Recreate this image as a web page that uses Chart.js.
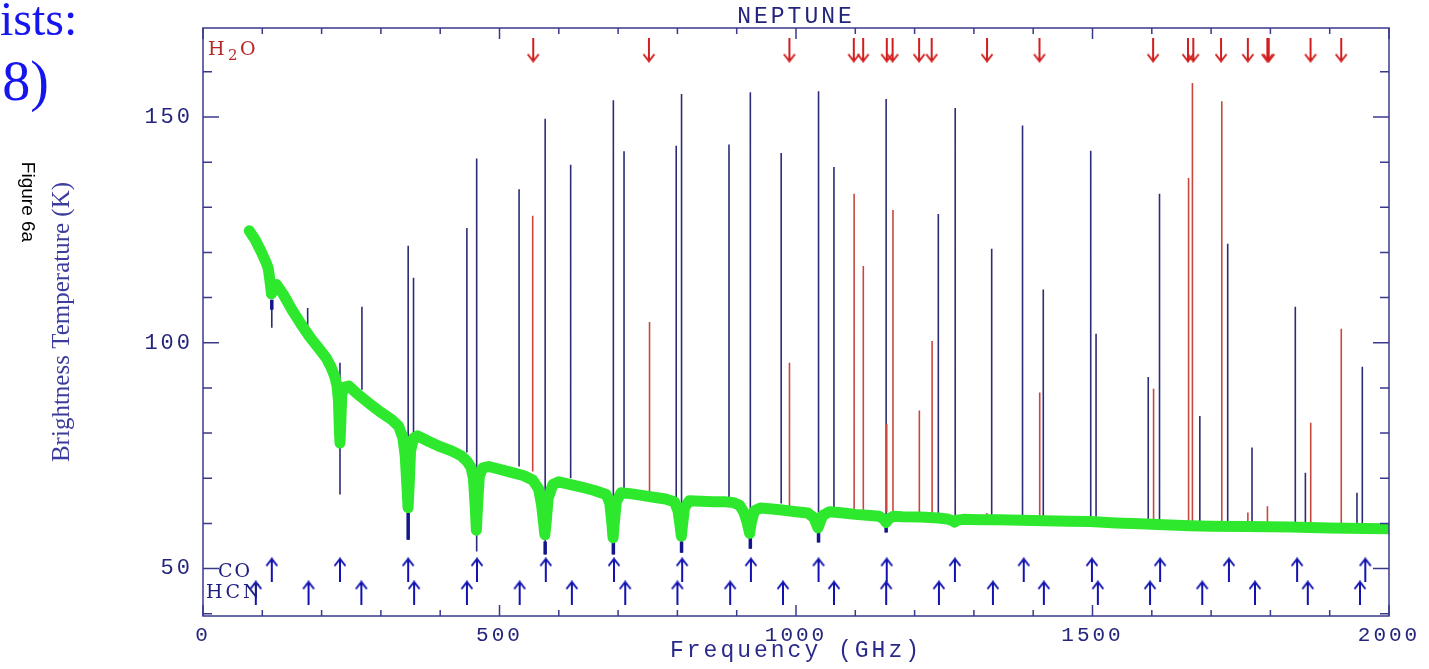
<!DOCTYPE html>
<html>
<head>
<meta charset="utf-8">
<title>Neptune</title>
<script src="https://cdn.jsdelivr.net/npm/chart.js@4.4.0/dist/chart.umd.min.js"></script>
<style>
  html, body { margin: 0; padding: 0; background: #fff; overflow: hidden; }
  canvas { display: block; }
</style>
</head>
<body>
<canvas id="chart" width="1429" height="669" style="width:1429px;height:669px"></canvas>
<script>
// model spectrum (green)
const modelFreq = [78, 88, 98, 106, 110, 113, 115.5, 118, 124, 135, 150, 165, 180, 195, 208, 216, 222, 226, 228.5, 230, 231, 232, 234, 238, 246, 260, 280, 300, 318, 330, 337, 341, 344, 345.8, 347.5, 350, 355, 362, 380, 400, 420, 435, 445, 452, 456, 459, 461, 463, 466, 472, 482, 500, 520, 540, 556, 566, 571, 574.5, 576.5, 578.5, 582, 590, 600, 620, 640, 660, 680, 686, 689.5, 691.5, 693.5, 697, 705, 720, 740, 760, 780, 795, 801, 804.5, 806.6, 808.5, 812, 820, 840, 860, 880, 895, 905, 912, 917, 921.8, 925, 930, 940, 960, 980, 1000, 1020, 1030, 1034.5, 1037, 1040, 1045, 1057, 1080, 1100, 1120, 1140, 1148, 1152, 1156, 1164, 1180, 1210, 1240, 1255, 1264, 1267.5, 1271, 1282, 1310, 1344, 1380, 1420, 1460, 1496, 1540, 1580, 1620, 1664, 1700, 1760, 1833, 1900, 1960, 2000];
const modelTemp = [124.8, 122.8, 120.2, 117.9, 116.5, 113.6, 110.8, 111.6, 112.9, 110.8, 107.3, 104.2, 101.3, 98.8, 96.6, 94.6, 92.6, 90.5, 87, 80.5, 77.8, 81, 88.5, 90.2, 90.4, 88.7, 86.6, 84.6, 83, 81.5, 79, 75, 68, 63.5, 68, 76, 78.9, 79.4, 78.2, 77, 76, 75, 73.8, 72.4, 70, 64, 58.5, 64, 70.5, 72.3, 72.6, 72, 71.3, 70.6, 69.6, 67.6, 64, 60, 57.5, 60, 65.5, 68.6, 69.2, 68.6, 68, 67.3, 66.4, 64.5, 60, 56.8, 60, 64.8, 66.8, 66.6, 66.2, 65.8, 65.4, 64.8, 62.8, 59.5, 57.2, 59.5, 63.5, 65, 64.9, 64.8, 64.8, 64.6, 64, 62.5, 60.5, 57.8, 60.5, 62.8, 63.4, 63.2, 62.9, 62.6, 62.3, 61.3, 59.8, 59, 60, 61.8, 62.6, 62.3, 62, 61.8, 61.6, 61, 60.2, 61, 61.6, 61.5, 61.4, 61.2, 61, 60.6, 60.3, 60.7, 60.9, 60.8, 60.8, 60.7, 60.6, 60.5, 60.4, 60.1, 59.9, 59.7, 59.5, 59.4, 59.3, 59.2, 59, 58.9, 58.8];

// CO / HCN lines (blue sticks)
const blueFreq = [116, 176.5, 231, 268, 346, 355, 445, 461.5, 533, 577, 620, 692, 710, 798, 807, 887, 923, 975, 1038, 1064, 1152, 1240, 1268.5, 1330, 1382, 1417, 1497, 1506, 1594, 1613, 1681, 1728, 1769, 1842, 1859, 1946, 1955];
const blueLow = [103.3, 103.5, 66.4, 89.6, 56.4, 79.6, 75.7, 53.8, 72.6, 53.1, 70, 53.1, 67.5, 65.3, 53.5, 65.3, 54.4, 64.4, 55.8, 63.5, 58, 62, 59.4, 61.6, 61.3, 61, 60.8, 61.5, 60.5, 60.4, 60.3, 60.2, 60, 60, 60, 59.8, 59.8];
const blueHigh = [109.5, 107.7, 95.6, 108, 121.5, 114.4, 125.4, 140.8, 134, 149.6, 139.4, 153.7, 142.4, 143.6, 155.1, 143.9, 155.5, 142, 155.7, 138.9, 154, 128.5, 152, 120.8, 148.1, 111.8, 142.5, 102, 92.4, 133, 83.8, 121.9, 76.8, 108, 71.2, 66.8, 94.7];

// heavier cores under the CO absorption dips
const coreFreq = [116, 346, 577, 692, 807, 923, 1038, 1152, 1268.5];
const coreLow = [107.3, 56.4, 53.1, 53.1, 53.5, 54.4, 55.8, 58, 59.2];
const coreHigh = [109.5, 62.4, 56, 55.7, 56, 56.8, 58.3, 59.5, 59.9];

// H2O lines (red sticks)
const redFreq = [556, 753, 989, 1098, 1113.5, 1153, 1163.5, 1208, 1229.5, 1322, 1411, 1603, 1662, 1668.5, 1718, 1762, 1795, 1868, 1919.5];
const redLow = [71.5, 66.9, 63.8, 62.9, 62.9, 62.4, 62.4, 62.2, 62, 61.4, 61.3, 60.5, 60.5, 60.5, 60.3, 60.2, 60, 60, 59.8];
const redHigh = [128.1, 104.6, 95.6, 133, 117, 82, 129.4, 85, 100.4, 62.3, 89, 89.8, 136.5, 157.5, 153.5, 62.4, 63.8, 82.3, 103.1];

// line markers (arrows)
const h2oArrows = [556.9, 752, 988.9, 1097.4, 1113.3, 1153.1, 1162.9, 1207.6, 1228.8, 1322.1, 1410.6, 1602.2, 1661, 1669.9, 1716.8, 1762, 1794.8, 1797.2, 1867.7, 1919.4];
const coArrows = [116, 231, 346, 462, 578, 693, 808, 924, 1038, 1153, 1268, 1384, 1499, 1614, 1730, 1845, 1960];
const hcnArrows = [89, 178, 267, 356, 445, 534, 622, 712, 800, 889, 978, 1064, 1152, 1241, 1332, 1418, 1509, 1597, 1685, 1774, 1863, 1951];

const xTickLabels = [0, 500, 1000, 1500, 2000];
const yTickLabels = [50, 100, 150];

const h2oRow = 164.8, coRow = 49.7, hcnRow = 44.6;
const navy = '#24247c';
const axisColor = '#3a3a8c';

function stems(freq, low, high) {
  const pts = [];
  freq.forEach((f, i) => {
    pts.push({x: f, y: low[i]}, {x: f, y: high[i]}, {x: f, y: null});
  });
  return pts;
}

function arrowImage(color, up) {
  const c = document.createElement('canvas');
  c.width = 14; c.height = 25;
  const g = c.getContext('2d');
  g.strokeStyle = color;
  g.lineWidth = 2;
  g.beginPath();
  if (up) {
    g.moveTo(7, 1.5); g.lineTo(7, 25);
    g.moveTo(1.5, 8.5); g.lineTo(7, 1.5); g.lineTo(12.5, 8.5);
  } else {
    g.moveTo(7, 0); g.lineTo(7, 23.5);
    g.moveTo(1.5, 16.5); g.lineTo(7, 23.5); g.lineTo(12.5, 16.5);
  }
  g.stroke();
  return c;
}

const upBlue = arrowImage('#1212b0', true);
const downRed = arrowImage('#d21e1e', false);

const isMult = (v, m) => Math.abs(v / m - Math.round(v / m)) < 1e-6;

// frame, inward ticks and the loose labels
const framePlugin = {
  id: 'frame',
  beforeDraw(chart) {
    chart.ctx.letterSpacing = '3px';
  },
  afterDraw(chart) {
    const {ctx, chartArea: a, scales: {x, y}} = chart;
    ctx.save();
    ctx.strokeStyle = axisColor;
    ctx.lineWidth = 1.5;
    ctx.strokeRect(a.left, a.top, a.right - a.left, a.bottom - a.top);
    ctx.beginPath();
    x.ticks.forEach(t => {
      if (!isMult(t.value, 100)) return;
      const px = x.getPixelForValue(t.value);
      const len = isMult(t.value, 500) ? 11 : 6;
      ctx.moveTo(px, a.bottom); ctx.lineTo(px, a.bottom - len);
      ctx.moveTo(px, a.top); ctx.lineTo(px, a.top + len);
    });
    y.ticks.forEach(t => {
      if (!isMult(t.value, 10)) return;
      const py = y.getPixelForValue(t.value);
      const len = isMult(t.value, 50) ? 16 : 9;
      ctx.moveTo(a.left, py); ctx.lineTo(a.left + len, py);
      ctx.moveTo(a.right, py); ctx.lineTo(a.right - len, py);
    });
    ctx.stroke();

    // molecule labels
    ctx.textAlign = 'left';
    ctx.textBaseline = 'alphabetic';
    ctx.fillStyle = '#b82828';
    ctx.letterSpacing = '1px';
    ctx.font = '19px "DejaVu Serif"';
    ctx.fillText('H', 208, 55);
    ctx.fillText('O', 240, 55);
    ctx.font = '15px "DejaVu Serif"';
    ctx.fillText('2', 228, 60);
    ctx.fillStyle = '#1e1e82';
    ctx.font = '19px "DejaVu Serif"';
    ctx.letterSpacing = '2px';
    ctx.fillText('CO', 218, 577);
    ctx.letterSpacing = '3px';
    ctx.fillText('HCN', 206, 598);

    // y axis title
    ctx.letterSpacing = '0px';
    ctx.save();
    ctx.translate(62, 322);
    ctx.rotate(-Math.PI / 2);
    ctx.textAlign = 'center';
    ctx.textBaseline = 'middle';
    ctx.fillStyle = '#3c3c9c';
    ctx.font = '25px "Liberation Serif"';
    ctx.fillText('Brightness Temperature (K)', 0, 0);
    ctx.restore();

    // page fragments
    ctx.save();
    ctx.translate(27, 202);
    ctx.rotate(Math.PI / 2);
    ctx.textAlign = 'center';
    ctx.textBaseline = 'middle';
    ctx.fillStyle = '#000';
    ctx.font = '19px "Liberation Sans"';
    ctx.fillText('Figure 6a', 0, 0);
    ctx.restore();

    ctx.fillStyle = '#1515ee';
    ctx.textAlign = 'left';
    ctx.font = '48px "Liberation Serif"';
    ctx.fillText('ists:', 0, 35);
    ctx.textAlign = 'right';
    ctx.font = '56px "Liberation Serif"';
    ctx.fillText('98)', 49, 100);
    ctx.restore();
  }
};

const monoFont = (size) => ({family: 'Liberation Mono', size: size});

new Chart(document.getElementById('chart'), {
  type: 'line',
  data: {
    datasets: [
      {
        label: 'Model',
        data: modelFreq.map((f, i) => ({x: f, y: modelTemp[i]})),
        borderColor: '#2ee82e',
        borderWidth: 11,
        borderJoinStyle: 'round',
        borderCapStyle: 'round',
        pointRadius: 0,
        tension: 0
      },
      {
        label: 'H2O markers',
        data: h2oArrows.map(f => ({x: f, y: h2oRow})),
        showLine: false,
        pointStyle: downRed,
        pointRadius: 1
      },
      {
        label: 'CO markers',
        data: coArrows.map(f => ({x: f, y: coRow})),
        showLine: false,
        pointStyle: upBlue,
        pointRadius: 1
      },
      {
        label: 'HCN markers',
        data: hcnArrows.map(f => ({x: f, y: hcnRow})),
        showLine: false,
        pointStyle: upBlue,
        pointRadius: 1
      },
      {
        label: 'Cores',
        data: stems(coreFreq, coreLow, coreHigh),
        borderColor: '#14148c',
        borderWidth: 3.5,
        pointRadius: 0,
        spanGaps: false
      },
      {
        label: 'H2O',
        data: stems(redFreq, redLow, redHigh),
        borderColor: '#c8483e',
        borderWidth: 1.6,
        pointRadius: 0,
        spanGaps: false
      },
      {
        label: 'CO/HCN',
        data: stems(blueFreq, blueLow, blueHigh),
        borderColor: '#2c2c78',
        borderWidth: 1.6,
        pointRadius: 0,
        spanGaps: false
      }
    ]
  },
  options: {
    responsive: false,
    devicePixelRatio: 1,
    animation: false,
    layout: {padding: {left: 0, right: 40, top: 0, bottom: 0}},
    plugins: {legend: {display: false}, tooltip: {enabled: false}},
    scales: {
      x: {
        type: 'linear',
        position: 'bottom',
        min: 0, max: 2000,
        grid: {display: false, drawTicks: false},
        border: {display: false},
        ticks: {
          stepSize: 100,
          autoSkip: false,
          maxRotation: 0, minRotation: 0,
          padding: 7,
          color: navy,
          font: monoFont(21),
          callback: v => xTickLabels.includes(v) ? String(v) : ''
        },
        title: {
          display: true,
          text: 'Frequency (GHz)',
          color: '#2a2a8a',
          font: monoFont(23),
          padding: {top: 0, bottom: 4}
        },
        afterFit(s) { s.height = 53; }
      },
      xTop: {
        type: 'linear',
        position: 'top',
        min: 0, max: 2000,
        grid: {display: false, drawTicks: false},
        border: {display: false},
        ticks: {display: false},
        title: {
          display: true,
          text: 'NEPTUNE',
          color: navy,
          font: monoFont(23),
          padding: {top: 3, bottom: 0}
        },
        afterFit(s) { s.height = 28; }
      },
      y: {
        type: 'linear',
        position: 'left',
        min: 39.5, max: 169.7,
        grid: {display: false, drawTicks: false},
        border: {display: false},
        ticks: {
          stepSize: 10,
          includeBounds: false,
          autoSkip: false,
          padding: 10,
          color: navy,
          font: monoFont(22),
          callback: v => yTickLabels.includes(v) ? String(v) : ''
        },
        afterFit(s) { s.width = 203; }
      }
    }
  },
  plugins: [framePlugin]
});
</script>
</body>
</html>
